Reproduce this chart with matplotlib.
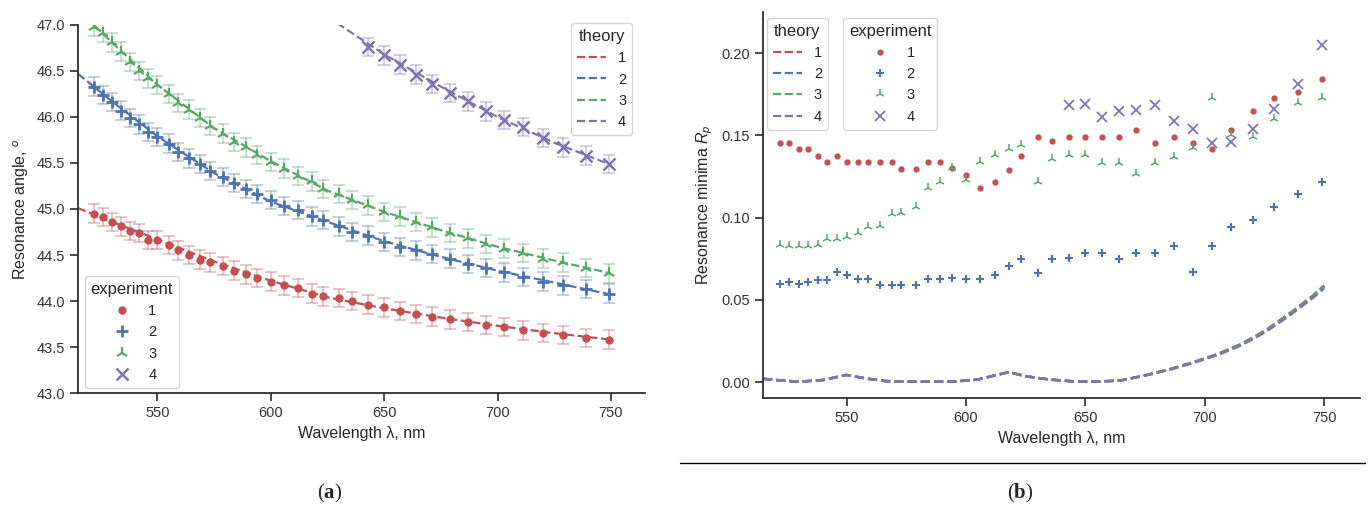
import matplotlib
matplotlib.use("Agg")
import matplotlib.pyplot as plt
import seaborn as sns
from matplotlib.lines import Line2D

sns.set_theme(style="ticks")
plt.rcParams['font.family'] = ['Liberation Sans', 'DejaVu Sans']
plt.rcParams['mathtext.fontset'] = 'custom'
plt.rcParams['mathtext.rm'] = 'Liberation Sans'
plt.rcParams['mathtext.it'] = 'Liberation Sans:italic'
plt.rcParams['mathtext.bf'] = 'Liberation Serif:bold'

# measured wavelengths (nm), shared by all samples
wl = [522, 526, 530, 534, 538, 542, 546, 550, 555, 559, 564, 569, 573, 579, 584, 589,
      594, 600, 606, 612, 618, 623, 630, 636, 643, 650, 657, 664, 671, 679, 687, 695,
      703, 711, 720, 729, 739, 749]
wl4 = wl[24:]  # sample 4 only visible from 643 nm

# (a) resonance angle, experiment
ang1 = [44.95, 44.91, 44.86, 44.81, 44.76, 44.74, 44.66, 44.66, 44.61, 44.55, 44.50, 44.45,
        44.42, 44.38, 44.33, 44.29, 44.25, 44.21, 44.17, 44.14, 44.08, 44.05, 44.03, 44.00,
        43.96, 43.93, 43.89, 43.86, 43.83, 43.80, 43.77, 43.74, 43.72, 43.68, 43.65, 43.63,
        43.60, 43.58]
ang2 = [46.33, 46.24, 46.16, 46.07, 45.99, 45.92, 45.84, 45.78, 45.71, 45.62, 45.55, 45.49,
        45.41, 45.35, 45.28, 45.22, 45.16, 45.10, 45.03, 44.99, 44.92, 44.88, 44.81, 44.75,
        44.71, 44.64, 44.59, 44.55, 44.51, 44.46, 44.40, 44.36, 44.31, 44.26, 44.21, 44.17,
        44.13, 44.08]
ang3 = [46.98, 46.91, 46.81, 46.71, 46.60, 46.50, 46.42, 46.35, 46.25, 46.15, 46.08, 45.99,
        45.90, 45.82, 45.73, 45.67, 45.59, 45.51, 45.44, 45.36, 45.30, 45.22, 45.16, 45.10,
        45.04, 44.97, 44.92, 44.86, 44.80, 44.74, 44.68, 44.62, 44.57, 44.52, 44.46, 44.42,
        44.36, 44.30]
ang4 = [46.76, 46.67, 46.57, 46.46, 46.36, 46.26, 46.17, 46.06, 45.97, 45.89, 45.77, 45.67,
        45.58, 45.49]
ang_err = 0.1

# (a) theory
th_wl = [515, 530, 550, 575, 600, 625, 650, 675, 700, 725, 750]
th_ang1 = [45.01, 44.86, 44.67, 44.43, 44.22, 44.04, 43.92, 43.82, 43.73, 43.65, 43.58]
th_ang2 = [46.47, 46.17, 45.79, 45.39, 45.08, 44.86, 44.65, 44.48, 44.33, 44.20, 44.07]
th_ang3 = [47.17, 46.81, 46.35, 45.88, 45.52, 45.20, 44.97, 44.77, 44.59, 44.44, 44.30]
th_wl4 = [625, 650, 675, 700, 725, 750]
th_ang4 = [47.09, 46.68, 46.33, 46.00, 45.72, 45.48]

# (b) resonance minima, experiment
rp1 = [0.1451, 0.1451, 0.1414, 0.1414, 0.1374, 0.1336, 0.1374, 0.1336, 0.1336, 0.1336,
       0.1336, 0.1336, 0.1293, 0.1293, 0.1336, 0.1336, 0.1299, 0.1258, 0.1177, 0.1218,
       0.1289, 0.1374, 0.1491, 0.1467, 0.1491, 0.1491, 0.1491, 0.1491, 0.1532, 0.1451,
       0.1491, 0.1451, 0.1414, 0.1532, 0.1649, 0.1728, 0.1765, 0.1842]
rp2 = [0.0594, 0.0606, 0.0594, 0.0610, 0.0620, 0.0620, 0.0671, 0.0650, 0.0624, 0.0624,
       0.0590, 0.0590, 0.0590, 0.0590, 0.0624, 0.0624, 0.0634, 0.0624, 0.0624, 0.0650,
       0.0705, 0.0746, 0.0664, 0.0746, 0.0756, 0.0786, 0.0786, 0.0746, 0.0786, 0.0786,
       0.0827, 0.0667, 0.0827, 0.0944, 0.0985, 0.1062, 0.1141, 0.1218]
rp3 = [0.0833, 0.0827, 0.0827, 0.0827, 0.0833, 0.0867, 0.0867, 0.0883, 0.0908, 0.0944,
       0.0948, 0.1021, 0.1029, 0.1062, 0.1181, 0.1218, 0.1299, 0.1228, 0.1339, 0.1380,
       0.1414, 0.1441, 0.1218, 0.1354, 0.1380, 0.1380, 0.1333, 0.1333, 0.1264, 0.1333,
       0.1366, 0.1421, 0.1725, 0.1502, 0.1491, 0.1597, 0.1694, 0.1725]
rp4 = [0.1684, 0.1690, 0.1613, 0.1649, 0.1653, 0.1684, 0.1587, 0.1538, 0.1455, 0.1461,
       0.1536, 0.1658, 0.1810, 0.2049]

# (b) theory
rth_wl = [515, 522, 530, 540, 550, 558, 566, 575, 585, 595, 605, 612, 618, 625, 635, 645,
          655, 665, 675, 685, 695, 705, 715, 725, 735, 745, 750]
rth1 = [0.0020, 0.0010, 0.0002, 0.0012, 0.0043, 0.0022, 0.0006, 0.0002, 0.0002, 0.0003,
        0.0015, 0.0040, 0.0060, 0.0035, 0.0015, 0.0004, 0.0002, 0.0010, 0.0041, 0.0077,
        0.0120, 0.0169, 0.0230, 0.0311, 0.0412, 0.0523, 0.0588]
rth2 = [0.0020, 0.0010, 0.0002, 0.0012, 0.0043, 0.0022, 0.0006, 0.0002, 0.0002, 0.0003,
        0.0015, 0.0040, 0.0060, 0.0035, 0.0015, 0.0004, 0.0002, 0.0010, 0.0040, 0.0075,
        0.0117, 0.0165, 0.0225, 0.0305, 0.0405, 0.0515, 0.0579]
rth3 = [0.0020, 0.0010, 0.0002, 0.0012, 0.0043, 0.0022, 0.0006, 0.0002, 0.0002, 0.0003,
        0.0015, 0.0040, 0.0060, 0.0035, 0.0015, 0.0004, 0.0002, 0.0010, 0.0040, 0.0076,
        0.0119, 0.0167, 0.0228, 0.0308, 0.0409, 0.0519, 0.0584]
rth4 = [0.0020, 0.0010, 0.0002, 0.0012, 0.0043, 0.0022, 0.0006, 0.0002, 0.0002, 0.0003,
        0.0015, 0.0040, 0.0060, 0.0035, 0.0015, 0.0004, 0.0002, 0.0010, 0.0039, 0.0074,
        0.0115, 0.0162, 0.0221, 0.0300, 0.0399, 0.0508, 0.0570]

labels = ['1', '2', '3', '4']
colors = ['#C44E52', '#4C72B0', '#55A868', '#8172B2']
markers = ['o', '+', '2', 'x']

fig = plt.figure(figsize=(13.7, 5.12), dpi=100)
ax1 = fig.add_axes([0.0569, 0.2324, 0.4139, 0.7188])
ax2 = fig.add_axes([0.5569, 0.2227, 0.4358, 0.7539])

# ---- panel (a)
exp_a = [(wl, ang1), (wl, ang2), (wl, ang3), (wl4, ang4)]
th_a = [(th_wl, th_ang1), (th_wl, th_ang2), (th_wl, th_ang3), (th_wl4, th_ang4)]
ms_a = [5, 9, 9, 9]
mew_a = [1, 2, 1.6, 1.8]
for i in range(4):
    ax1.plot(th_a[i][0], th_a[i][1], '--', color=colors[i], lw=1.6)
    ax1.errorbar(exp_a[i][0], exp_a[i][1], yerr=ang_err, fmt='none', ecolor=colors[i],
                 alpha=0.4, capsize=4, elinewidth=1.2, capthick=1.2)
    ax1.plot(exp_a[i][0], exp_a[i][1], ls='none', marker=markers[i], color=colors[i],
             ms=ms_a[i], mew=mew_a[i])

ax1.set_xlim(515, 765)
ax1.set_ylim(43.0, 47.0)
ax1.set_xticks([550, 600, 650, 700, 750])
ax1.set_yticks([43.0, 43.5, 44.0, 44.5, 45.0, 45.5, 46.0, 46.5, 47.0])
ax1.yaxis.set_major_formatter(plt.FormatStrFormatter('%.1f'))
ax1.set_xlabel('Wavelength λ, nm', fontsize=11.5)
ax1.set_ylabel('Resonance angle, $^o$', fontsize=11.5)
ax1.tick_params(labelsize=10.5, colors='#333333')
sns.despine(ax=ax1)

th_handles = [Line2D([], [], ls='--', color=c, lw=1.6) for c in colors]
leg1 = ax1.legend(th_handles, labels, title='theory', loc='upper right',
                  bbox_to_anchor=(0.977, 1.005), borderaxespad=0, fontsize=10.5,
                  title_fontsize=12)
ax1.add_artist(leg1)
ex_handles = [Line2D([], [], ls='none', marker=markers[i], color=colors[i],
                     ms=ms_a[i], mew=mew_a[i]) for i in range(4)]
ax1.legend(ex_handles, labels, title='experiment', loc='lower left',
           bbox_to_anchor=(0.012, 0.014), borderaxespad=0, fontsize=10.5,
           title_fontsize=12)

# ---- panel (b)
exp_b = [(wl, rp1), (wl, rp2), (wl, rp3), (wl4, rp4)]
th_b = [rth1, rth2, rth3, rth4]
ms_b = [3.5, 6, 6.5, 7]
mew_b = [1, 1.5, 1.1, 1.3]
for i in range(4):
    ax2.plot(rth_wl, th_b[i], '--', color=colors[i], lw=1.8)
for i in range(4):
    ax2.plot(exp_b[i][0], exp_b[i][1], ls='none', marker=markers[i], color=colors[i],
             ms=ms_b[i], mew=mew_b[i])

ax2.set_xlim(515, 765)
ax2.set_ylim(-0.0097, 0.225)
ax2.set_xticks([550, 600, 650, 700, 750])
ax2.set_yticks([0.0, 0.05, 0.10, 0.15, 0.20])
ax2.yaxis.set_major_formatter(plt.FormatStrFormatter('%.2f'))
ax2.set_xlabel('Wavelength λ, nm', fontsize=11.5)
ax2.set_ylabel('Resonance minima $R_p$', fontsize=11.5)
ax2.tick_params(labelsize=10.5, colors='#333333')
sns.despine(ax=ax2)

leg2 = ax2.legend(th_handles, labels, title='theory', loc='upper left',
                  bbox_to_anchor=(0.007, 0.985), borderaxespad=0, fontsize=10.5,
                  title_fontsize=12)
ax2.add_artist(leg2)
ex_handles_b = [Line2D([], [], ls='none', marker=markers[i], color=colors[i],
                       ms=ms_b[i], mew=mew_b[i]) for i in range(4)]
ax2.legend(ex_handles_b, labels, title='experiment', loc='upper left',
           bbox_to_anchor=(0.134, 0.985), borderaxespad=0, fontsize=10.5,
           title_fontsize=12)

# separator line and panel captions
fig.add_artist(Line2D([680 / 1370, 1365 / 1370], [1 - 463 / 512, 1 - 463 / 512],
                      color='black', lw=1))
fig.text(330 / 1370, 1 - 493 / 512, r'($\mathbf{a}$)', ha='center', va='center',
         fontsize=15, family='Liberation Serif')
fig.text(1020 / 1370, 1 - 493 / 512, r'($\mathbf{b}$)', ha='center', va='center',
         fontsize=15, family='Liberation Serif')

fig.savefig('out.png', dpi=100)
